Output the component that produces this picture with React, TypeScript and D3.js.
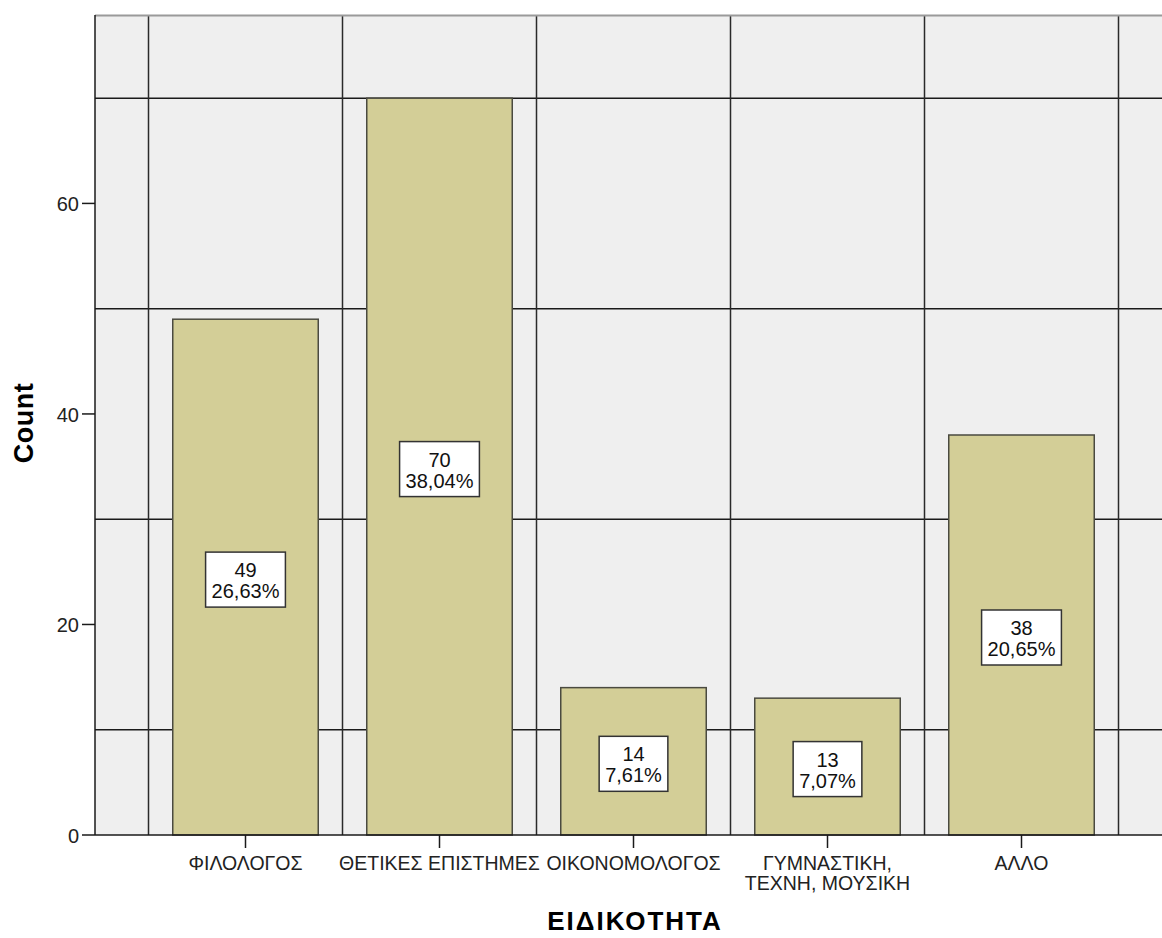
import React from 'react';
import * as d3 from 'd3';

// categories and counts
const categories = ['ΦΙΛΟΛΟΓΟΣ', 'ΘΕΤΙΚΕΣ ΕΠΙΣΤΗΜΕΣ', 'ΟΙΚΟΝΟΜΟΛΟΓΟΣ', 'ΓΥΜΝΑΣΤΙΚΗ, ΤΕΧΝΗ, ΜΟΥΣΙΚΗ', 'ΑΛΛΟ'];
const tickLines = [['ΦΙΛΟΛΟΓΟΣ'], ['ΘΕΤΙΚΕΣ ΕΠΙΣΤΗΜΕΣ'], ['ΟΙΚΟΝΟΜΟΛΟΓΟΣ'], ['ΓΥΜΝΑΣΤΙΚΗ,', 'ΤΕΧΝΗ, ΜΟΥΣΙΚΗ'], ['ΑΛΛΟ']];
const counts = [49, 70, 14, 13, 38];
const yTicks = [0, 20, 40, 60];
const yGrid = [10, 30, 50, 70];

const W = 1162;
const H = 938;
const plotLeft = 95;
const plotTop = 15;
const plotBottom = 835;

// rough glyph widths (em) for the label boxes
const charW = (ch: string) => (ch === ',' ? 0.278 : ch === '%' ? 0.889 : 0.556);
const textW = (s: string, size: number) => s.split('').reduce((a, ch) => a + charW(ch), 0) * size;

const App = () => {
    const total = d3.sum(counts);

    const x = d3.scaleBand<string>()
        .domain(categories)
        .range([148.5, 1118.5])
        .paddingInner(0)
        .paddingOuter(0);

    const y = d3.scaleLinear()
        .domain([0, 77.9])
        .range([plotBottom, plotTop]);

    const bw = x.bandwidth();
    const barW = bw * 0.75;
    const font = "'Liberation Sans', Arial, sans-serif";

    // vertical grid lines sit on band edges
    const vGrid = categories.map(c => x(c) as number).concat([(x(categories[categories.length - 1]) as number) + bw]);

    return (
        <svg width={W} height={H} style={{position: 'absolute', left: 0, top: 0}} fontFamily={font}>
            <rect x={plotLeft} y={plotTop} width={W - plotLeft} height={plotBottom - plotTop} fill="#efefef"/>
            {yGrid.map(v => (
                <line key={'h' + v} x1={plotLeft} x2={W} y1={y(v)} y2={y(v)} stroke="#1a1a1a" strokeWidth={1.5}/>
            ))}
            {vGrid.map((gx, i) => (
                <line key={'v' + i} x1={gx} x2={gx} y1={plotTop} y2={plotBottom} stroke="#2a2a2a" strokeWidth={1.5}/>
            ))}
            <line x1={plotLeft} x2={W} y1={plotTop + 0.5} y2={plotTop + 0.5} stroke="#9a9a9a" strokeWidth={2}/>

            {categories.map((c, i) => {
                const cx = (x(c) as number) + bw / 2;
                return (
                    <rect key={'b' + c} x={cx - barW / 2} y={y(counts[i])} width={barW}
                          height={y(0) - y(counts[i])} fill="#d3ce97" stroke="#4a4a40" strokeWidth={1.5}/>
                );
            })}

            {categories.map((c, i) => {
                const cx = (x(c) as number) + bw / 2;
                const cy = y(counts[i] / 2);
                const pct = (counts[i] / total * 100).toFixed(2).replace('.', ',') + '%';
                const boxW = textW(pct, 20) + 12;
                return (
                    <g key={'l' + c}>
                        <rect x={cx - boxW / 2} y={cy - 25} width={boxW} height={55} fill="#fff" stroke="#333" strokeWidth={1.5}/>
                        <text x={cx} y={cy} textAnchor="middle" fontSize={20} fill="#111">{counts[i]}</text>
                        <text x={cx} y={cy + 21} textAnchor="middle" fontSize={20} fill="#111">{pct}</text>
                    </g>
                );
            })}

            {/* y axis */}
            <line x1={plotLeft} x2={plotLeft} y1={plotTop} y2={plotBottom} stroke="#1a1a1a" strokeWidth={1.5}/>
            {yTicks.map(t => (
                <g key={'yt' + t}>
                    <line x1={plotLeft - 13} x2={plotLeft} y1={y(t)} y2={y(t)} stroke="#1a1a1a" strokeWidth={1.5}/>
                    <text x={plotLeft - 16} y={y(t) + 8} textAnchor="end" fontSize={20} fill="#222">{t}</text>
                </g>
            ))}

            {/* x axis */}
            <line x1={plotLeft} x2={W} y1={plotBottom} y2={plotBottom} stroke="#1a1a1a" strokeWidth={1.5}/>
            {categories.map((c, i) => {
                const cx = (x(c) as number) + bw / 2;
                return (
                    <g key={'xt' + c}>
                        <line x1={cx} x2={cx} y1={plotBottom} y2={plotBottom + 13} stroke="#1a1a1a" strokeWidth={1.5}/>
                        {tickLines[i].map((ln, j) => (
                            <text key={j} x={cx} y={plotBottom + 35 + j * 20} textAnchor="middle" fontSize={19.5}
                                  fill="#222">{ln}</text>
                        ))}
                    </g>
                );
            })}

            <text transform={`translate(33,423) rotate(-90)`} textAnchor="middle" fontSize={27} fontWeight="bold" letterSpacing={0.5}>Count</text>
            <text x={635} y={930} textAnchor="middle" fontSize={26} fontWeight="bold" letterSpacing={2}>ΕΙΔΙΚΟΤΗΤΑ</text>
        </svg>
    );
};

export default App;
